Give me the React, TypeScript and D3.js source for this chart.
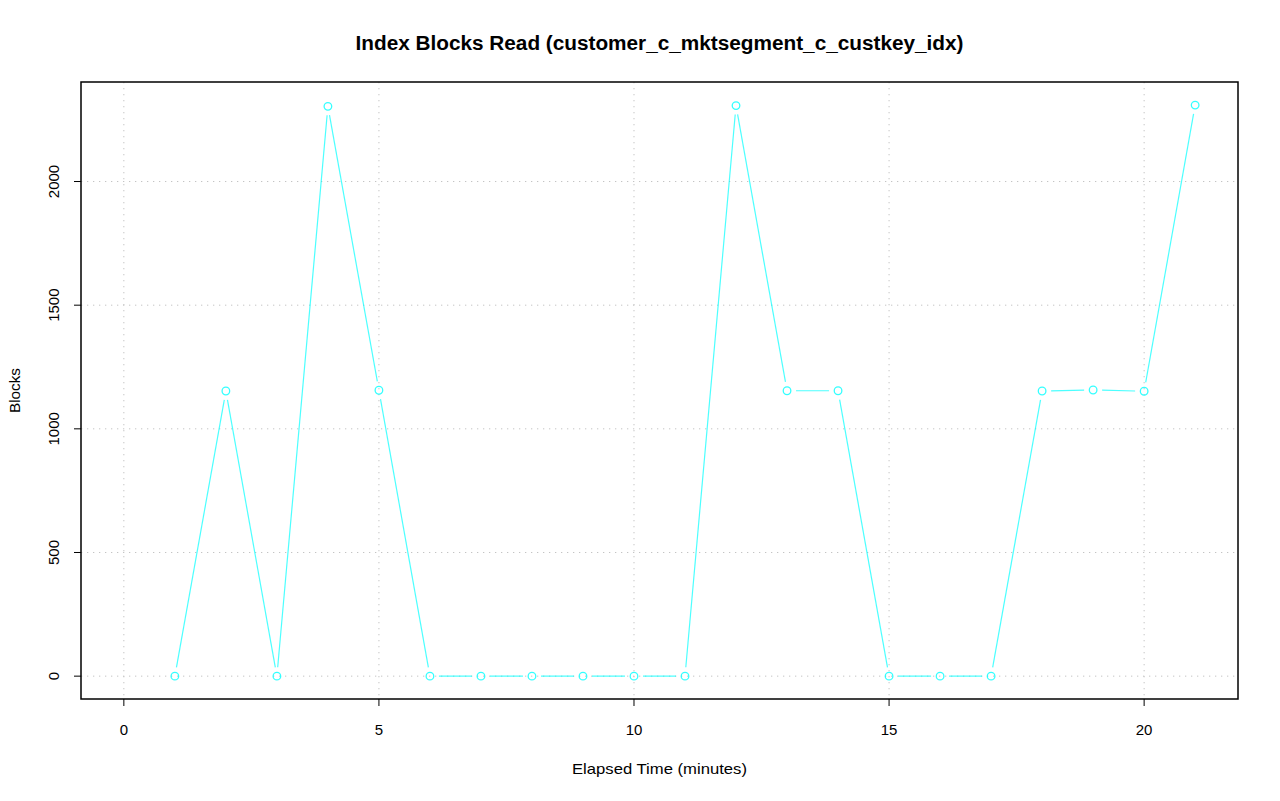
import React from "react";
import * as d3 from "d3";

const minutes = [1, 2, 3, 4, 5, 6, 7, 8, 9, 10, 11, 12, 13, 14, 15, 16, 17, 18, 19, 20, 21];
const blocks = [0, 1153, 0, 2304, 1156, 0, 0, 0, 0, 0, 0, 2307, 1154, 1154, 0, 0, 0, 1153, 1157, 1152, 2309];
const xTicks = [0, 5, 10, 15, 20];
const yTicks = [0, 500, 1000, 1500, 2000];

const W = 1280, H = 801;
const L = 81, R = 1238, T = 82, B = 699;
const FONT = "'Liberation Sans', Arial, Helvetica, sans-serif";

export default function App() {
  const xMin = 0, xMax = 21;
  const yMin = 0, yMax = 2310;
  const xPad = (xMax - xMin) * 0.04, yPad = (yMax - yMin) * 0.04;
  const x = d3.scaleLinear().domain([xMin - xPad, xMax + xPad]).range([L, R]);
  const y = d3.scaleLinear().domain([yMin - yPad, yMax + yPad]).range([B, T]);

  const pts = minutes.map((m, i) => [x(m), y(blocks[i])] as [number, number]);
  const gap = 9;
  const segs: string[] = [];
  for (let i = 0; i < pts.length - 1; i++) {
    const [x0, y0] = pts[i], [x1, y1] = pts[i + 1];
    const dx = x1 - x0, dy = y1 - y0;
    const len = Math.hypot(dx, dy);
    if (len <= 2 * gap) continue;
    const ux = dx / len, uy = dy / len;
    const p = d3.path();
    p.moveTo(x0 + ux * gap, y0 + uy * gap);
    p.lineTo(x1 - ux * gap, y1 - uy * gap);
    segs.push(p.toString());
  }

  return (
    <svg width={W} height={H} style={{ position: "absolute", left: 0, top: 0, background: "#fff" }} fontFamily={FONT}>
      <rect x={0} y={0} width={W} height={H} fill="#fff" />
      {xTicks.map((t) => (
        <line key={"gx" + t} x1={x(t)} x2={x(t)} y1={T} y2={B} stroke="#c4c4c4" strokeWidth={1} strokeDasharray="1.3,4.7" />
      ))}
      {yTicks.map((t) => (
        <line key={"gy" + t} x1={L} x2={R} y1={y(t)} y2={y(t)} stroke="#c4c4c4" strokeWidth={1} strokeDasharray="1.3,4.7" />
      ))}
      {segs.map((d, i) => (
        <path key={"s" + i} d={d} stroke="#00ffff" strokeWidth={1.2} fill="none" strokeOpacity={0.7} />
      ))}
      {pts.map(([px, py], i) => (
        <circle key={"p" + i} cx={px} cy={py} r={3.8} fill="none" stroke="#00ffff" strokeWidth={1.3} strokeOpacity={0.8} />
      ))}
      <rect x={L} y={T} width={R - L} height={B - T} fill="none" stroke="#000" strokeWidth={1.5} />
      {xTicks.map((t) => (
        <g key={"xt" + t}>
          <line x1={x(t)} x2={x(t)} y1={B} y2={B + 7} stroke="#000" strokeWidth={1} />
          <text x={x(t)} y={735} textAnchor="middle" fontSize={15}>{t}</text>
        </g>
      ))}
      {yTicks.map((t) => (
        <g key={"yt" + t}>
          <line x1={L} x2={L - 7} y1={y(t)} y2={y(t)} stroke="#000" strokeWidth={1} />
          <text transform={`translate(59,${y(t)}) rotate(-90)`} textAnchor="middle" fontSize={15}>{t}</text>
        </g>
      ))}
      <text x={(L + R) / 2} y={774} textAnchor="middle" fontSize={15} textLength={175} lengthAdjust="spacingAndGlyphs">Elapsed Time (minutes)</text>
      <text transform={`translate(19.5,${(T + B) / 2}) rotate(-90)`} textAnchor="middle" fontSize={15} textLength={45} lengthAdjust="spacingAndGlyphs">Blocks</text>
      <text x={(L + R) / 2} y={50} textAnchor="middle" fontSize={20} fontWeight="bold" textLength={608} lengthAdjust="spacingAndGlyphs">Index Blocks Read (customer_c_mktsegment_c_custkey_idx)</text>
    </svg>
  );
}
